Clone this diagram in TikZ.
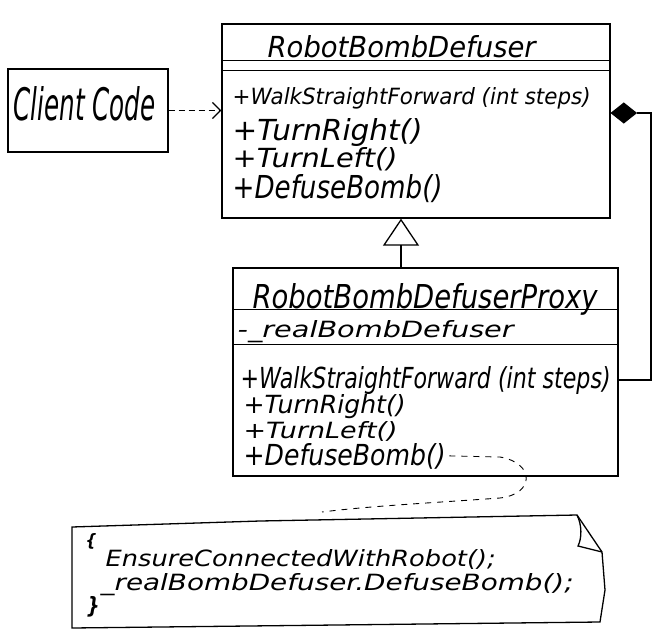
\documentclass[tikz,border=0pt]{standalone}
\usepackage{graphicx}
\usepackage{fontspec}
\setsansfont{DejaVu Sans}
\usepackage{tikz}
\usetikzlibrary{positioning,calc,shapes.geometric,arrows.meta}

\newcommand{\hw}[3]{\resizebox{#1pt}{#2pt}{#3}}

\tikzset{
  umlbox/.style={draw,rectangle,line width=1.3pt,inner sep=0pt},
  hand/.style={anchor=base west,inner sep=0pt,font=\sffamily\itshape},
  composite/.style={draw,diamond,fill=black,minimum width=25pt,minimum height=20pt,inner sep=0pt},
  uses/.style={line width=1.1pt,dash pattern=on 6pt off 4pt,-{Straight Barb[length=8pt,width=16pt,line width=1.3pt]}},
  inherits/.style={line width=1.3pt,-{Triangle[open,length=27pt,width=36pt,line width=1.3pt]}},
  notelink/.style={line width=0.9pt,dash pattern=on 6pt off 6pt}
}

\begin{document}
\begin{tikzpicture}[x=1pt,y=-1pt,line width=1.3pt]
\useasboundingbox (0,0) rectangle (665,633);

% class boxes
\node (client) at (88,110.5) [umlbox,minimum width=160pt,minimum height=83pt] {};
\node (defuser) at (416,121) [umlbox,minimum width=388pt,minimum height=194pt] {};
\node (proxy) at (425.5,372) [umlbox,minimum width=385pt,minimum height=208pt] {};

\draw (defuser.north west) ++(0,37) -- ++(388,0);
\draw (defuser.north west) ++(0,47) -- ++(388,0);
\draw (proxy.north west) ++(0,42) -- ++(385,0);
\draw (proxy.north west) ++(0,77) -- ++(385,0);

% texts
\node (clientname) at (13,120) [hand] {\hw{142}{34}{Client Code}};

\node (dtitle) at (267,57) [hand] {\hw{268}{22}{RobotBombDefuser}};
\node (dop1) at (232,104) [hand] {\hw{358}{17}{+WalkStraightForward (int steps)}};
\node (dop2) at (232,140) [hand] {\hw{190}{22}{+TurnRight()}};
\node (dop3) at (232,167) [hand] {\hw{165}{20}{+TurnLeft()}};
\node (dop4) at (232,198) [hand] {\hw{210}{24}{+DefuseBomb()}};

\node (ptitle) at (252,308) [hand] {\hw{345}{25}{RobotBombDefuserProxy}};
\node (pattr) at (237,337) [hand] {\hw{276}{17}{-\_realBombDefuser}};
\node (pop1) at (240,388) [hand] {\hw{370}{22}{+WalkStraightForward (int steps)}};
\node (pop2) at (243,413) [hand] {\hw{162}{19}{+TurnRight()}};
\node (pop3) at (243,438) [hand] {\hw{154}{17}{+TurnLeft()}};
\node (pop4) at (243,465) [hand] {\hw{202}{22}{+DefuseBomb()}};

% connectors
\draw[uses] (client.east) -- (client.east -| defuser.west);
\draw[inherits] ([xshift=-24.5pt]proxy.north) -- ([xshift=-24.5pt]proxy.north |- defuser.south);
\node (owns) at ([yshift=8pt]defuser.east) [composite,anchor=west] {};
\draw (owns.east) -- ++(14,0) |- ([yshift=-8pt]proxy.east);

% note
\coordinate (noteend) at (322,512);
\draw[notelink] ([xshift=3pt]pop4.east) -- (500,457) .. controls (535,463) and (535,494) .. (500,498)
  .. controls (430,503) and (370,506) .. (noteend);
\draw (72,527) -- (260,521) -- (577,515) -- (602,552) -- (605,590) -- (600,622) -- (72,628) -- cycle;
\draw (577,515) .. controls (582,525) and (582,538) .. (578,546) -- (602,552);

\node (nopen) at (85,546) [hand] {\hw{11}{13}{\bfseries\{}};
\node (nline1) at (105,566) [hand] {\hw{390}{17}{EnsureConnectedWithRobot();}};
\node (nline2) at (100,590) [hand] {\hw{473}{17}{\_realBombDefuser.DefuseBomb();}};
\node (nclose) at (86,613) [hand] {\hw{13}{17}{\bfseries\}}};
\end{tikzpicture}
\end{document}
